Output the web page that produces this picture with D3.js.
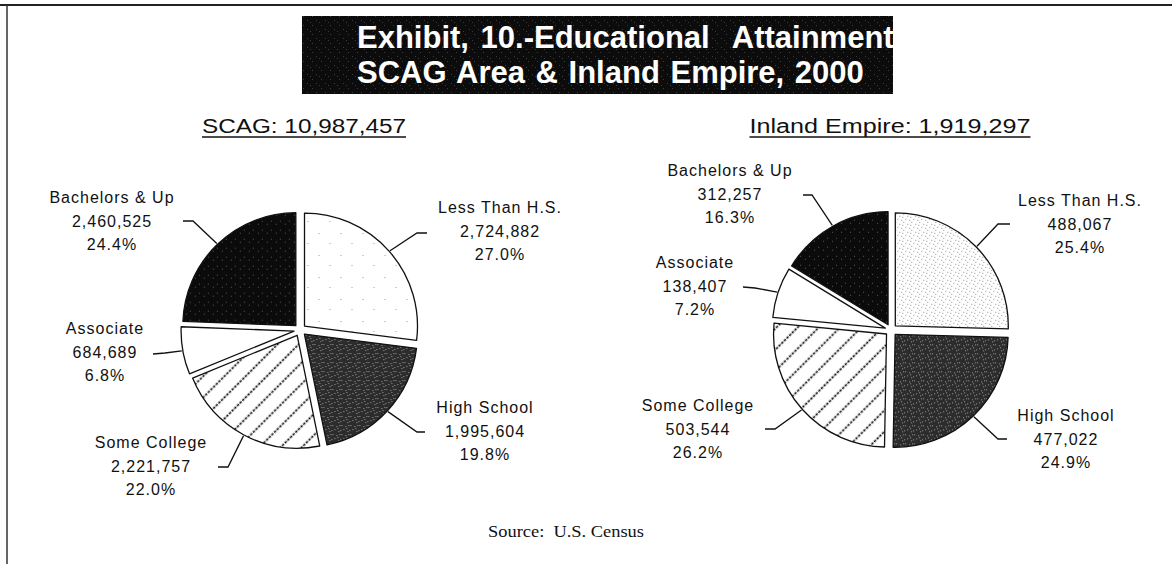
<!DOCTYPE html>
<html>
<head>
<meta charset="utf-8">
<script src="https://cdn.jsdelivr.net/npm/d3@7"></script>
<style>
  html, body { margin: 0; padding: 0; background: #fff; }
  svg { display: block; }
  .lbl { font-family: "Liberation Sans", Arial, sans-serif; font-size: 16px; letter-spacing: 1px; fill: #111; }
  .sub { font-family: "Liberation Sans", Arial, sans-serif; font-size: 20px; fill: #111; }
  .ttl { font-family: "Liberation Sans", Arial, sans-serif; font-weight: bold; font-size: 31px; fill: #fff; white-space: pre; }
  .src { font-family: "Liberation Serif", "Times New Roman", serif; font-size: 16px; fill: #111; white-space: pre; }
</style>
</head>
<body>
<div id="chart"></div>
<script>
// Educational attainment, 2000 (U.S. Census)
const categories = ["Less Than H.S.", "High School", "Some College", "Associate", "Bachelors & Up"];
const scagValues = [2724882, 1995604, 2221757, 684689, 2460525];
const inlandValues = [488067, 477022, 503544, 138407, 312257];
const pieTitles = ["SCAG: 10,987,457", "Inland Empire: 1,919,297"];
const titleLines = ["Exhibit, 10.-Educational  Attainment", "SCAG Area & Inland Empire, 2000"];
const sourceText = "Source:  U.S. Census";

const width = 1172, height = 564;
const fmtNum = d3.format(",");
const fmtPct = d3.format(".1%");

const svg = d3.select("#chart").append("svg")
  .attr("width", width)
  .attr("height", height);

const defs = svg.append("defs");

// speckled fill, like a photocopied screen
function speckle(id, base, dot, spots, size) {
  const p = defs.append("pattern")
    .attr("id", id)
    .attr("patternUnits", "userSpaceOnUse")
    .attr("width", size).attr("height", size);
  p.append("rect").attr("width", size).attr("height", size).attr("fill", base);
  spots.forEach(([x, y]) => {
    p.append("rect").attr("x", x).attr("y", y).attr("width", 1).attr("height", 1).attr("fill", dot);
  });
}
speckle("hs", "#2c2c2c", "#a0a0a0", [[1, 1], [5, 2], [3, 5], [7, 7], [0, 6], [6, 4], [8, 1]], 9);
speckle("bach", "#0b0b0b", "#5a5a5a", [[2, 3], [7, 6]], 9);
speckle("titlebg", "#0c0c0c", "#3c3c3c", [[1, 2], [6, 7], [4, 4]], 9);
speckle("less0", "#fff", "#999", [[3, 5], [14, 17]], 22);
speckle("less1", "#fff", "#8a8a8a", [[0, 0], [4, 2], [2, 5], [6, 6], [7, 3]], 8);

// dashed diagonal hatch
const hatch = defs.append("pattern")
  .attr("id", "hatch")
  .attr("patternUnits", "userSpaceOnUse")
  .attr("width", 15).attr("height", 15)
  .attr("patternTransform", "rotate(45)");
hatch.append("rect").attr("width", 15).attr("height", 15).attr("fill", "#fff");
hatch.append("line")
  .attr("x1", 7.5).attr("y1", 0).attr("x2", 7.5).attr("y2", 15)
  .attr("stroke", "#111").attr("stroke-width", 1.7)
  .attr("stroke-dasharray", "2.5,1.25");

// frame of the scanned page
svg.append("line")
  .attr("x1", 0).attr("x2", width).attr("y1", 5).attr("y2", 5)
  .attr("stroke", "#222").attr("stroke-width", 2);
svg.append("line")
  .attr("x1", 7).attr("x2", 7).attr("y1", 5).attr("y2", height)
  .attr("stroke", "#333").attr("stroke-width", 1.5);

// title block
const titleBox = { x: 302, y: 16, w: 591, h: 78 };
const titleWordGap = [3, 2];
defs.append("clipPath").attr("id", "titleclip")
  .append("rect")
  .attr("x", titleBox.x).attr("y", titleBox.y)
  .attr("width", titleBox.w).attr("height", titleBox.h);
const tg = svg.append("g").attr("clip-path", "url(#titleclip)");
tg.append("rect")
  .attr("x", titleBox.x).attr("y", titleBox.y)
  .attr("width", titleBox.w).attr("height", titleBox.h)
  .attr("fill", "url(#titlebg)");
tg.selectAll("text.ttl")
  .data(titleLines)
  .join("text")
  .attr("class", "ttl")
  .attr("x", 357)
  .attr("y", (d, i) => 48 + i * 35)
  .style("word-spacing", (d, i) => titleWordGap[i] + "px")
  .text(d => d);

// per-pie layout: centre, label anchors [cx, first line y] and leader bends
const layouts = [
  {
    cx: 300, cy: 330, r: 113, title: { x: 304, y: 135, len: 204 }, less: "less0",
    labels: [[500, 207], [485, 407], [151, 442], [105, 328], [112, 197]],
    leaders: [
      [[427, 233], [417, 233]],
      [[425, 432], [417, 432]],
      [[218, 467], [228, 467]],
      [[153, 354], [165, 353]],
      [[183, 221], [193, 221]]
    ]
  },
  {
    cx: 891, cy: 330, r: 113, title: { x: 890, y: 135, len: 281 }, less: "less1",
    labels: [[1080, 200], [1066, 415], [698, 405], [695, 262], [730, 170]],
    leaders: [
      [[1010, 224], [998, 224]],
      [[1007, 439], [998, 439]],
      [[765, 429], [775, 429]],
      [[743, 287], [755, 288]],
      [[803, 195], [812, 195]]
    ]
  }
];

const explode = 6;
const lineGap = 23.5;
const pie = d3.pie().sort(null).value(d => d);
const arc = d3.arc().innerRadius(0);

[scagValues, inlandValues].forEach((values, k) => {
  const L = layouts[k];
  const total = d3.sum(values);
  const fills = ["url(#" + L.less + ")", "url(#hs)", "url(#hatch)", "#fff", "url(#bach)"];
  const arcs = pie(values);
  arc.outerRadius(L.r);

  // subtitle with underline
  svg.append("text")
    .attr("class", "sub")
    .attr("x", L.title.x)
    .attr("y", L.title.y - 2)
    .attr("text-anchor", "middle")
    .attr("textLength", L.title.len)
    .attr("lengthAdjust", "spacingAndGlyphs")
    .text(pieTitles[k]);
  svg.append("line")
    .attr("x1", L.title.x - L.title.len / 2).attr("x2", L.title.x + L.title.len / 2)
    .attr("y1", L.title.y + 2).attr("y2", L.title.y + 2)
    .attr("stroke", "#111").attr("stroke-width", 1.6);

  const g = svg.append("g").attr("transform", `translate(${L.cx},${L.cy})`);

  g.selectAll("path.slice")
    .data(arcs)
    .join("path")
    .attr("class", "slice")
    .attr("transform", d => {
      const a = (d.startAngle + d.endAngle) / 2;
      return `translate(${explode * Math.sin(a)},${-explode * Math.cos(a)})`;
    })
    .attr("d", arc)
    .attr("fill", (d, i) => fills[i])
    .attr("stroke", "#111")
    .attr("stroke-width", 1.3)
    .attr("stroke-linejoin", "round");

  // leader lines: label side bend, then to the slice edge at mid angle
  const leader = d3.line();
  arcs.forEach((d, i) => {
    const a = (d.startAngle + d.endAngle) / 2;
    const rr = L.r + explode + 1;
    const end = [L.cx + rr * Math.sin(a), L.cy - rr * Math.cos(a)];
    svg.append("path")
      .attr("d", leader([...L.leaders[i], end]))
      .attr("fill", "none")
      .attr("stroke", "#111")
      .attr("stroke-width", 1.3);
  });

  // labels: name, count, share
  arcs.forEach((d, i) => {
    const [lx, ly] = L.labels[i];
    const lines = [categories[i], fmtNum(values[i]), fmtPct(values[i] / total)];
    svg.append("g").selectAll("text")
      .data(lines)
      .join("text")
      .attr("class", "lbl")
      .attr("x", lx)
      .attr("y", (s, j) => ly + 6 + j * lineGap)
      .attr("text-anchor", "middle")
      .text(s => s);
  });
});

// source note
svg.append("text")
  .attr("class", "src")
  .attr("x", 566)
  .attr("y", 537)
  .attr("text-anchor", "middle")
  .attr("textLength", 156)
  .attr("lengthAdjust", "spacingAndGlyphs")
  .text(sourceText);
</script>
</body>
</html>
